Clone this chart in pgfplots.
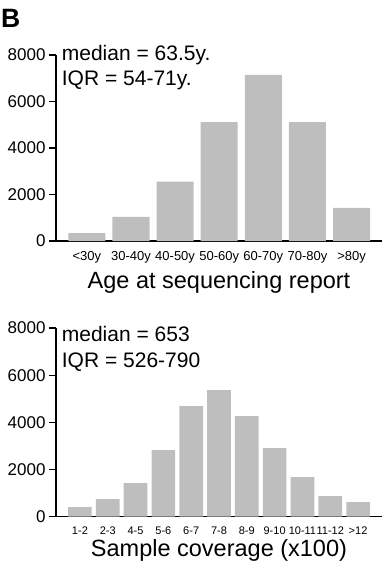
\documentclass[border=0pt]{standalone}
\usepackage{fontspec}
\setmainfont{Liberation Sans}
\usepackage{pgfplots}
\pgfplotsset{compat=1.18}
\definecolor{bargray}{RGB}{190,190,190}
\pgfplotsset{
 mystyle/.style={
  scale only axis, width=326pt,
  axis x line=bottom, axis y line=left,
  axis line style={-, line width=1.3pt, black},
  ymin=0, ymax=8000, ytick={0,2000,4000,6000,8000},
  scaled y ticks=false,
  /pgf/number format/1000 sep={},
  /pgf/number format/assume math mode=true,
  tick align=outside,
  major tick length=7pt,
  ytick style={line width=1.3pt, black},
  xtick style={draw=none},
  yticklabel style={font=\fontsize{17}{17}\selectfont},
  xtick=data,
  ybar,
 }
}
\begin{document}
\begin{tikzpicture}
\useasboundingbox (0pt,0pt) rectangle (385pt,-581pt);
\node[anchor=base west, inner sep=0pt, font=\fontsize{26.5}{26.5}\selectfont\bfseries] at (1pt,-27pt) {B};
\begin{axis}[mystyle, at={(56pt,-241pt)}, anchor=south west, height=186pt,
  xmin=-0.70, xmax=6.69, bar width=0.84,
  xticklabels={<30y,30-40y,40-50y,50-60y,60-70y,70-80y,>80y},
  xticklabel style={font=\fontsize{13}{13}\selectfont},
  xlabel={Age at sequencing report},
  xlabel style={font=\fontsize{23.5}{23.5}\selectfont, at={(axis description cs:0.5,0)}, anchor=base, yshift=-47pt}]
\addplot[fill=bargray, draw=none] coordinates {(0,340) (1,1040) (2,2550) (3,5110) (4,7140) (5,5110) (6,1430)};
\end{axis}
\node[anchor=base west, inner sep=0pt, font=\fontsize{21}{21}\selectfont] at (61.7pt,-60pt) {median = 63.5y.};
\node[anchor=base west, inner sep=0pt, font=\fontsize{21}{21}\selectfont] at (61.7pt,-85pt) {IQR = 54-71y.};
\begin{axis}[mystyle, at={(56pt,-516.7pt)}, anchor=south west, height=188.7pt,
  xmin=-0.86, xmax=10.86, bar width=0.85,
  xticklabels={1-2,2-3,4-5,5-6,6-7,7-8,8-9,9-10,10-11,11-12,>12},
  xticklabel style={font=\fontsize{11}{11}\selectfont},
  xlabel={Sample coverage (x100)},
  xlabel style={font=\fontsize{23.5}{23.5}\selectfont, at={(axis description cs:0.5,0)}, anchor=base, yshift=-40pt}]
\addplot[fill=bargray, draw=none] coordinates {(0,411) (1,750) (2,1429) (3,2828) (4,4693) (5,5371) (6,4269) (7,2912) (8,1683) (9,877) (10,623)};
\end{axis}
\node[anchor=base west, inner sep=0pt, font=\fontsize{21}{21}\selectfont] at (61.7pt,-341.7pt) {median = 653};
\node[anchor=base west, inner sep=0pt, font=\fontsize{21}{21}\selectfont] at (61.7pt,-367.3pt) {IQR = 526-790};
\end{tikzpicture}
\end{document}
